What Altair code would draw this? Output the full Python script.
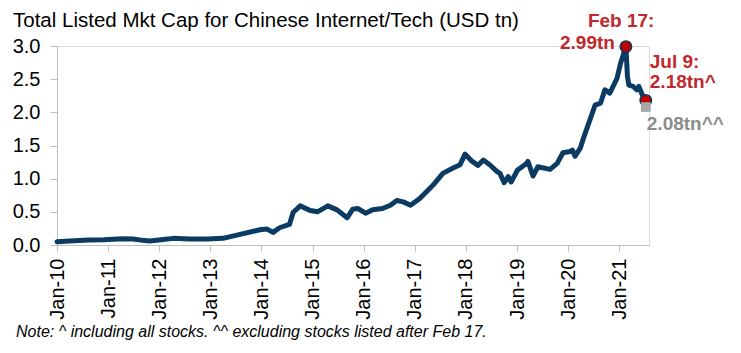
import altair as alt
import pandas as pd

# ---- data (USD tn) ----
dates = [
    "2010-01-01", "2010-04-01", "2010-08-15", "2010-12-01", "2011-04-15", "2011-07-01",
    "2011-09-05", "2011-10-25", "2012-01-15", "2012-04-10", "2012-08-01", "2012-12-10",
    "2013-04-01", "2013-08-01", "2013-12-20", "2014-02-10", "2014-03-25", "2014-05-10",
    "2014-07-20", "2014-08-15", "2014-10-05", "2014-12-15", "2015-02-05", "2015-04-20",
    "2015-06-25", "2015-09-05", "2015-10-15", "2015-11-20", "2016-01-15", "2016-03-05",
    "2016-05-15", "2016-07-10", "2016-08-25", "2016-10-10", "2016-12-01", "2017-02-05",
    "2017-05-10", "2017-07-20", "2017-10-01", "2017-11-20", "2017-12-25", "2018-02-15",
    "2018-03-28", "2018-05-05", "2018-06-20", "2018-08-10", "2018-09-01", "2018-10-01",
    "2018-10-30", "2018-11-20", "2019-01-05", "2019-03-10", "2019-03-20", "2019-04-25",
    "2019-05-30", "2019-08-25", "2019-10-15", "2019-11-25", "2020-01-15", "2020-02-01",
    "2020-02-20", "2020-03-28", "2020-04-15", "2020-07-12", "2020-08-20", "2020-09-20",
    "2020-10-25", "2020-12-15", "2021-01-10", "2021-02-17", "2021-02-28", "2021-03-10",
    "2021-04-10", "2021-05-05", "2021-05-20", "2021-06-15", "2021-07-09",
]
mkt_cap = [
    0.05, 0.06, 0.075, 0.08, 0.095, 0.09,
    0.07, 0.06, 0.08, 0.10, 0.09, 0.09,
    0.10, 0.16, 0.23, 0.24, 0.19, 0.26,
    0.31, 0.49, 0.59, 0.52, 0.50, 0.59,
    0.53, 0.41, 0.54, 0.55, 0.48, 0.53,
    0.55, 0.60, 0.67, 0.65, 0.60, 0.70,
    0.90, 1.08, 1.16, 1.21, 1.37, 1.26,
    1.20, 1.28, 1.21, 1.11, 1.08, 0.94,
    1.03, 0.95, 1.13, 1.23, 1.26, 1.04,
    1.18, 1.14, 1.23, 1.39, 1.41, 1.43,
    1.34, 1.46, 1.58, 2.11, 2.14, 2.34,
    2.29, 2.51, 2.74, 2.99, 2.54, 2.41,
    2.39, 2.34, 2.39, 2.26, 2.18,
]

red_dates = ["2021-02-17", "2021-07-09"]
red_values = [2.99, 2.18]
grey_dates = ["2021-07-09"]
grey_values = [2.08]

tick_dates = [f"{y}-01-01" for y in range(2010, 2022)]
y_ticks = [0.0, 0.5, 1.0, 1.5, 2.0, 2.5, 3.0]
x_domain = ["2010-01-01", "2021-08-01"]

title_text = "Total Listed Mkt Cap for Chinese Internet/Tech (USD tn)"
note_text = "Note: ^ including all stocks. ^^ excluding stocks listed after Feb 17."

NAVY = "#0b3a62"
RED = "#c00000"
RED_TXT = "#c0282d"
GREY = "#a6a6a6"
GREY_TXT = "#8c8c8c"
FONT = "Liberation Sans"

df = pd.DataFrame({"date": pd.to_datetime(dates), "value": mkt_cap})
reds = pd.DataFrame({"date": pd.to_datetime(red_dates), "value": red_values})
greys = pd.DataFrame({"date": pd.to_datetime(grey_dates), "value": grey_values})

x_enc = alt.X(
    "date:T",
    scale=alt.Scale(domain=x_domain),
    axis=alt.Axis(
        values=tick_dates, format="Jan-%y", labelAngle=-90, title=None,
        grid=False, domainColor="#bfbfbf", tickColor="#bfbfbf", tickSize=6,
        labelFontSize=20, labelFont=FONT, labelColor="#000000", labelPadding=7,
        labelOverlap=False,
    ),
)
y_enc = alt.Y(
    "value:Q",
    scale=alt.Scale(domain=[0, 3], nice=False),
    axis=alt.Axis(
        values=y_ticks, format=".1f", title=None, grid=False,
        domainColor="#bfbfbf", tickColor="#bfbfbf", tickSize=7,
        labelFontSize=20, labelFont=FONT, labelColor="#000000", labelPadding=10,
        labelOverlap=False,
    ),
)

line = alt.Chart(df).mark_line(color=NAVY, strokeWidth=5, strokeJoin="round", strokeCap="round").encode(
    x=x_enc, y=y_enc
)

dots = alt.Chart(reds).mark_point(
    shape="circle", filled=True, fill=RED, stroke=NAVY, strokeWidth=1.5, size=130, opacity=1
).encode(x=x_enc, y=y_enc)

square = alt.Chart(greys).mark_point(
    shape="square", filled=True, fill=GREY, strokeWidth=0, size=95, opacity=1
).encode(x=x_enc, y=y_enc)

feb = reds.iloc[[0]].assign(l1="Feb 17:", l2="2.99tn")
jul = reds.iloc[[1]].assign(l1="Jul 9:", l2="2.18tn^")
grl = greys.assign(l="2.08tn^^")

def txt(data, field, dx, dy, color, align="left", bold=True):
    return alt.Chart(data).mark_text(
        align=align, baseline="middle", dx=dx, dy=dy, font=FONT, fontSize=19,
        fontWeight="bold" if bold else "normal", color=color,
    ).encode(x=x_enc, y=y_enc, text=f"{field}:N")

ann = [
    txt(feb, "l1", -38, -26, RED_TXT),
    txt(feb, "l2", -11, -4, RED_TXT, align="right"),
    txt(jul, "l1", 4, -38, RED_TXT),
    txt(jul, "l2", 4, -18, RED_TXT),
    txt(grl, "l", 1, 17, GREY_TXT),
]

title = alt.Chart(pd.DataFrame({"t": [title_text]})).mark_text(
    align="left", baseline="middle", font=FONT, fontSize=20.5, color="#000000"
).encode(x=alt.value(-44), y=alt.value(-25), text="t:N")

note = alt.Chart(pd.DataFrame({"t": [note_text]})).mark_text(
    align="left", baseline="middle", font=FONT, fontSize=16, fontStyle="italic", color="#000000"
).encode(x=alt.value(-41), y=alt.value(286), text="t:N")

chart = alt.layer(line, dots, square, *ann, title, note).properties(
    width=592, height=199,
    autosize=alt.AutoSizeParams(type="none"),
    padding={"left": 57, "top": 46, "right": 92, "bottom": 108},
).configure_view(stroke=None).configure(background="white")

chart.save("out.html", embed_options={"renderer": "svg", "actions": False})
